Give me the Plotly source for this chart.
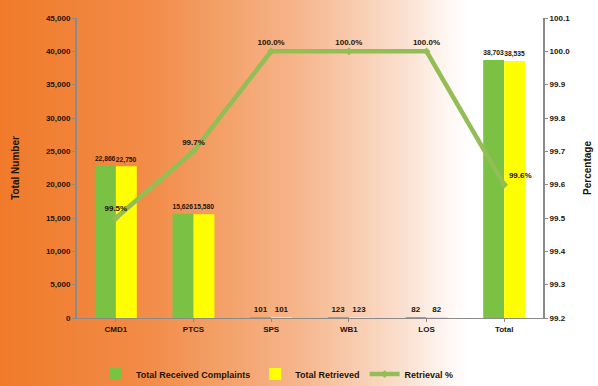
import plotly.graph_objects as go

categories = ["CMD1", "PTCS", "SPS", "WB1", "LOS", "Total"]
received = [22866, 15626, 101, 123, 82, 38703]
retrieved = [22750, 15580, 101, 123, 82, 38535]
retrieval_pct = [99.5, 99.7, 100.0, 100.0, 100.0, 99.6]
pct_labels = ["99.5%", "99.7%", "100.0%", "100.0%", "100.0%", "99.6%"]

W, H = 598, 386
ML, MR, MT, MB = 77, 55, 18, 68
PW, PH = W - ML - MR, H - MT - MB

FONT = "Liberation Sans, Arial, sans-serif"
TXT = "#1e1406"

fig = go.Figure()

fig.add_trace(go.Bar(
    x=categories, y=received, name="Total Received Complaints",
    marker=dict(color="#7BC144", line=dict(width=0)),
    text=[f"{v:,}" for v in received], textposition="outside",
    textfont=dict(size=8, color=TXT, family=FONT, weight="bold"),
    cliponaxis=False,
))
fig.add_trace(go.Bar(
    x=categories, y=retrieved, name="Total Retrieved",
    marker=dict(color="#FFFF00", line=dict(width=0)),
    text=[f"{v:,}" for v in retrieved], textposition="outside",
    textfont=dict(size=8, color=TXT, family=FONT, weight="bold"),
    cliponaxis=False,
))
fig.add_trace(go.Scatter(
    x=categories, y=retrieval_pct, name="Retrieval %", yaxis="y2",
    mode="lines+markers+text",
    line=dict(color="#93BE55", width=4.5),
    marker=dict(color="#93BE55", size=6, symbol="diamond"),
    text=pct_labels,
    textposition=["top center", "top center", "top center", "top center", "top center", "top right"],
    textfont=dict(size=8, color=TXT, family=FONT, weight="bold"),
    cliponaxis=False,
))

# gradient background (orange -> white), drawn as thin stripes
stops = [(0, (240, 122, 42)), (150, (242, 140, 72)), (300, (246, 182, 140)),
         (400, (251, 222, 204)), (450, (255, 248, 245)), (470, (255, 255, 255)), (W, (255, 255, 255))]

def col_at(px):
    for (a, ca), (b, cb) in zip(stops[:-1], stops[1:]):
        if a <= px <= b:
            t = (px - a) / (b - a) if b > a else 0
            return tuple(round(ca[i] + (cb[i] - ca[i]) * t) for i in range(3))
    return stops[-1][1]

shapes = []
step = 4
for px in range(0, W, step):
    c = col_at(px + step / 2)
    shapes.append(dict(
        type="rect", xref="paper", yref="paper", layer="below",
        x0=(px - ML) / PW, x1=(px + step + 0.5 - ML) / PW,
        y0=-MB / PH, y1=1 + MT / PH,
        fillcolor=f"rgb({c[0]},{c[1]},{c[2]})", line=dict(width=0),
    ))

axis_font = dict(size=8, color=TXT, family=FONT, weight="bold")
fig.update_layout(
    width=W, height=H,
    margin=dict(l=ML, r=MR, t=MT, b=MB, autoexpand=False),
    paper_bgcolor="white", plot_bgcolor="rgba(0,0,0,0)",
    barmode="group", bargap=0.46, bargroupgap=0,
    shapes=shapes,
    showlegend=True,
    legend=dict(orientation="h", x=0.43, xanchor="center", y=-0.187, yanchor="middle",
                font=dict(size=9, color=TXT, family=FONT, weight="bold"),
                bgcolor="rgba(0,0,0,0)", itemwidth=30),
    xaxis=dict(showline=True, linecolor="#8a8a8a", linewidth=1, ticks="outside",
               tickcolor="#8a8a8a", ticklen=3, tickfont=axis_font, showgrid=False),
    yaxis=dict(range=[0, 45000], dtick=5000, tickformat=",", showline=True,
               linecolor="#8a8a8a", linewidth=2, ticks="outside", tickcolor="#8a8a8a",
               ticklen=3, tickfont=axis_font, showgrid=False, zeroline=False,
               title=dict(text="Total Number", font=dict(size=10, color=TXT, family=FONT, weight="bold"), standoff=24)),
    yaxis2=dict(range=[99.2, 100.1], dtick=0.1, tickformat=".1f", overlaying="y", side="right",
                showline=True, linecolor="#8a8a8a", linewidth=2, ticks="outside",
                tickcolor="#8a8a8a", ticklen=3, tickfont=axis_font, showgrid=False, zeroline=False,
                title=dict(text="Percentage", font=dict(size=10, color=TXT, family=FONT, weight="bold"), standoff=15)),
)

fig.write_html("out.html")
